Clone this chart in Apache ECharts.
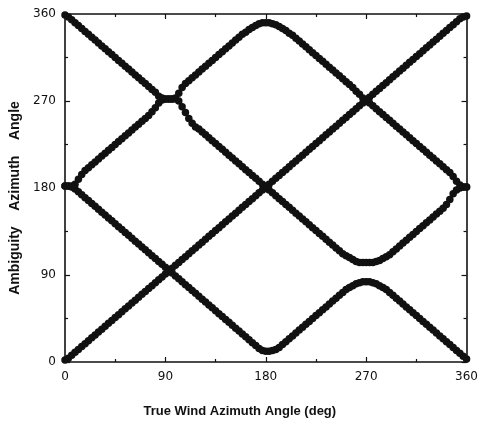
<!DOCTYPE html>
<html>
<head>
<meta charset="utf-8">
<script src="https://cdn.jsdelivr.net/npm/echarts@6/dist/echarts.min.js"></script>
<style>
  html, body { margin: 0; padding: 0; background: #fff; }
  #chart { width: 481px; height: 423px; }
</style>
</head>
<body>
<div id="chart"></div>
<script>
// True wind azimuth (deg), sampled every 3 degrees
const azimuth = [
  0, 3, 6, 9, 12, 15, 18, 21, 24, 27,
  30, 33, 36, 39, 42, 45, 48, 51, 54, 57,
  60, 63, 66, 69, 72, 75, 78, 81, 84, 87,
  90, 93, 96, 99, 102, 105, 108, 111, 114, 117,
  120, 123, 126, 129, 132, 135, 138, 141, 144, 147,
  150, 153, 156, 159, 162, 165, 168, 171, 174, 177,
  180, 183, 186, 189, 192, 195, 198, 201, 204, 207,
  210, 213, 216, 219, 222, 225, 228, 231, 234, 237,
  240, 243, 246, 249, 252, 255, 258, 261, 264, 267,
  270, 273, 276, 279, 282, 285, 288, 291, 294, 297,
  300, 303, 306, 309, 312, 315, 318, 321, 324, 327,
  330, 333, 336, 339, 342, 345, 348, 351, 354, 357,
  360
];

// Ambiguity 1: follows the true direction
const ambiguity1 = [
  2, 4, 7, 10, 13, 16, 19, 22, 25, 28,
  31, 34, 37, 40, 43, 46, 49, 52, 55, 58,
  61, 64, 67, 70, 73, 76, 79, 82, 85, 88,
  91, 94, 97, 100, 103, 106, 109, 112, 115, 118,
  121, 124, 127, 130, 133, 136, 139, 142, 145, 148,
  151, 154, 157, 160, 163, 166, 169, 172, 175, 178,
  181, 184, 187, 190, 193, 196, 199, 202, 205, 208,
  211, 214, 217, 220, 223, 226, 229, 232, 235, 238,
  241, 244, 247, 250, 253, 256, 259, 262, 265, 268,
  271, 274, 277, 280, 283, 286, 289, 292, 295, 298,
  301, 304, 307, 310, 313, 316, 319, 322, 325, 328,
  331, 334, 337, 340, 343, 346, 349, 352, 355, 357,
  358
];

// Ambiguity 2: mirror branch starting at 360
const ambiguity2 = [
  359, 357, 354, 351, 348, 345, 342, 339, 336, 333,
  330, 327, 324, 321, 318, 315, 312, 309, 306, 303,
  300, 297, 294, 291, 288, 285, 282, 279, 275, 273,
  272, 272, 272, 272, 270, 264, 258, 252, 247, 243,
  241, 238, 235, 232, 229, 226, 223, 220, 217, 214,
  211, 208, 205, 202, 199, 196, 193, 190, 187, 184,
  181, 178, 175, 172, 169, 166, 163, 160, 157, 154,
  151, 148, 145, 142, 139, 136, 133, 130, 127, 124,
  121, 118, 115, 112, 110, 108, 106, 104, 103, 103,
  103, 103, 103, 104, 105, 107, 109, 111, 114, 117,
  120, 123, 126, 129, 132, 135, 138, 141, 144, 147,
  150, 153, 156, 159, 163, 168, 174, 178, 180, 181,
  181
];

// Ambiguity 3: upper branch starting at 180
const ambiguity3 = [
  182, 182, 182, 184, 189, 194, 198, 201, 204, 207,
  210, 213, 216, 219, 222, 225, 228, 231, 234, 237,
  240, 243, 246, 249, 252, 255, 259, 263, 268, 271,
  272, 272, 272, 273, 278, 284, 288, 291, 294, 297,
  300, 303, 306, 309, 312, 315, 318, 321, 324, 327,
  330, 333, 336, 339, 341, 344, 346, 348, 350, 351,
  351, 351, 350, 349, 347, 345, 343, 340, 338, 335,
  332, 329, 326, 323, 320, 317, 314, 311, 308, 305,
  302, 299, 296, 293, 290, 287, 284, 280, 277, 273,
  271, 268, 265, 262, 259, 256, 253, 250, 247, 244,
  241, 238, 235, 232, 229, 226, 223, 220, 217, 214,
  211, 208, 205, 202, 199, 196, 192, 187, 183, 181,
  181
];

// Ambiguity 4: lower branch starting at 180
const ambiguity4 = [
  182, 182, 181, 179, 176, 173, 170, 167, 164, 161,
  158, 155, 152, 149, 146, 143, 140, 137, 134, 131,
  128, 125, 122, 119, 116, 113, 110, 107, 104, 101,
  98, 95, 92, 89, 86, 83, 80, 77, 74, 71,
  68, 65, 62, 59, 56, 53, 50, 47, 44, 41,
  38, 35, 32, 29, 26, 23, 20, 17, 14, 12,
  11, 11, 12, 13, 15, 18, 21, 24, 27, 30,
  33, 36, 39, 42, 45, 48, 51, 54, 57, 60,
  63, 66, 69, 72, 75, 77, 79, 81, 82, 83,
  83, 83, 82, 81, 79, 77, 75, 72, 69, 66,
  63, 60, 57, 54, 51, 48, 45, 42, 39, 36,
  33, 30, 27, 24, 21, 18, 15, 12, 9, 6,
  3
];

const axisTicks = [0, 90, 180, 270, 360];
const xTitle = 'True Wind Azimuth Angle (deg)';
const yTitle = 'Ambiguity    Azimuth    Angle';

const INK = '#111';

function frameAxis(position, showLabels) {
  return {
    type: 'value',
    position: position,
    min: axisTicks[0],
    max: axisTicks[axisTicks.length - 1],
    interval: axisTicks[1] - axisTicks[0],
    axisLine: { show: true, onZero: false, lineStyle: { color: INK, width: 1.6 } },
    axisTick: { show: true, inside: true, length: 5, lineStyle: { color: INK, width: 1.2 } },
    minorTick: { show: true, splitNumber: 2, length: 3, lineStyle: { color: INK, width: 1.2 } },
    splitLine: { show: false },
    minorSplitLine: { show: false },
    axisLabel: {
      show: showLabels,
      color: INK,
      fontFamily: 'DejaVu Sans',
      fontSize: 12,
      margin: 9
    }
  };
}

const xBottom = Object.assign(frameAxis('bottom', true), {
  name: xTitle,
  nameLocation: 'middle',
  nameGap: 43,
  nameTextStyle: {
    fontFamily: 'Liberation Sans',
    fontWeight: 'bold',
    fontSize: 13,
    color: INK,
    padding: [0, 52, 0, 0]
  }
});
const xTop = frameAxis('top', false);

const yLeft = Object.assign(frameAxis('left', true), {
  name: yTitle,
  nameLocation: 'middle',
  nameGap: 40,
  nameTextStyle: {
    fontFamily: 'Liberation Sans',
    fontWeight: 'bold',
    fontSize: 14,
    color: INK,
    padding: [0, 20, 0, 0]
  }
});
const yRight = frameAxis('right', false);

function pairs(values) {
  return azimuth.map((a, i) => [a, values[i]]);
}

function dots(name, values) {
  return {
    name: name,
    type: 'scatter',
    xAxisIndex: 0,
    yAxisIndex: 0,
    symbol: 'circle',
    symbolSize: 7.5,
    itemStyle: { color: INK, opacity: 1 },
    emphasis: { disabled: true },
    data: pairs(values)
  };
}

const chart = echarts.init(document.getElementById('chart'), null, { renderer: 'canvas' });
chart.setOption({
  animation: false,
  backgroundColor: '#fff',
  grid: { left: 65, right: 11, top: 14, bottom: 60, containLabel: false },
  xAxis: [xBottom, xTop],
  yAxis: [yLeft, yRight],
  series: [
    dots('Ambiguity 1', ambiguity1),
    dots('Ambiguity 2', ambiguity2),
    dots('Ambiguity 3', ambiguity3),
    dots('Ambiguity 4', ambiguity4)
  ]
});
</script>
</body>
</html>
